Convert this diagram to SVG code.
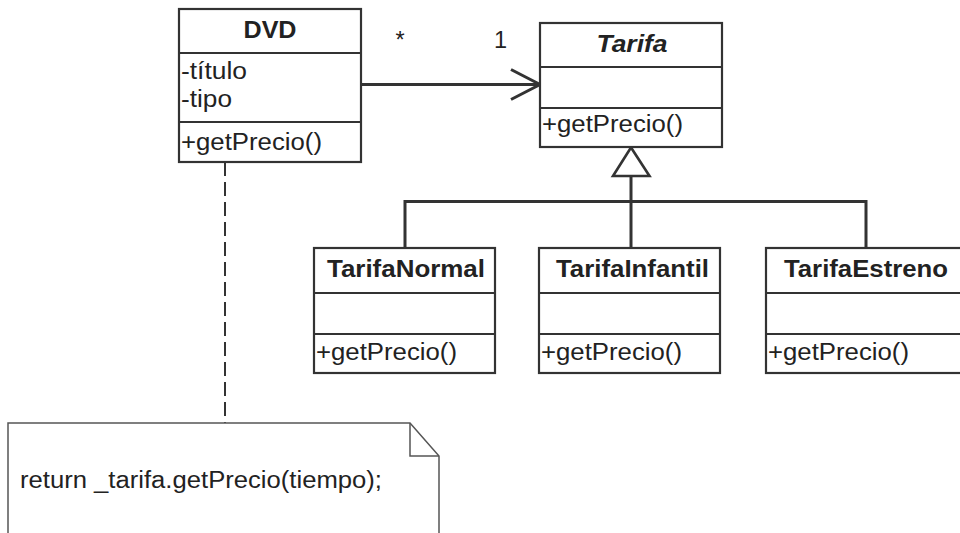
<svg xmlns="http://www.w3.org/2000/svg" width="960" height="533" viewBox="0 0 960 533">
<style>
.box{fill:#fff;stroke:#333;stroke-width:2.2}
.sep{stroke:#333;stroke-width:2.2}
.t{font-family:"Liberation Sans",Arial,sans-serif;font-size:23.5px;fill:#222}
.b{font-weight:bold}
.i{font-style:italic}
.c{text-anchor:middle}
.con{fill:none;stroke:#333;stroke-width:3}
</style>
<rect width="960" height="533" fill="#fff"/>
<g id="connectors">
<line class="con" x1="361" y1="84.5" x2="540" y2="84.5"/>
<polyline class="con" points="511,69.5 540,84.5 511,99.5"/>
<text class="t" x="395.5" y="48" font-size="21">*</text>
<text class="t" x="494" y="48">1</text>
<line class="con" x1="631" y1="176" x2="631" y2="248"/>
<polyline class="con" points="405,248 405,201.5 866,201.5 866,248"/>
<polygon points="631,147.5 613,176 649.5,176" fill="#fff" stroke="#333" stroke-width="2.6"/>
<line x1="225" y1="162" x2="225" y2="423" stroke="#333" stroke-width="2" stroke-dasharray="14,6"/>
</g>
<g id="DVD">
<rect class="box" x="179" y="9" width="182" height="153"/>
<line class="sep" x1="179" y1="53" x2="361" y2="53"/>
<line class="sep" x1="179" y1="122" x2="361" y2="122"/>
<text class="t b c" x="270" y="38" textLength="53" lengthAdjust="spacingAndGlyphs">DVD</text>
<text class="t" x="181" y="79" textLength="66" lengthAdjust="spacingAndGlyphs">-título</text>
<text class="t" x="181" y="107" textLength="51" lengthAdjust="spacingAndGlyphs">-tipo</text>
<text class="t" x="181" y="150" textLength="141" lengthAdjust="spacingAndGlyphs">+getPrecio()</text>
</g>
<g id="Tarifa">
<rect class="box" x="540" y="23" width="182" height="124"/>
<line class="sep" x1="540" y1="67" x2="722" y2="67"/>
<line class="sep" x1="540" y1="108" x2="722" y2="108"/>
<text class="t b i c" x="632" y="52" textLength="71" lengthAdjust="spacingAndGlyphs">Tarifa</text>
<text class="t" x="542" y="132" textLength="141" lengthAdjust="spacingAndGlyphs">+getPrecio()</text>
</g>
<g id="TarifaNormal">
<rect class="box" x="314" y="248" width="181" height="125"/>
<line class="sep" x1="314" y1="293" x2="495" y2="293"/>
<line class="sep" x1="314" y1="334" x2="495" y2="334"/>
<text class="t b c" x="406" y="277" textLength="158" lengthAdjust="spacingAndGlyphs">TarifaNormal</text>
<text class="t" x="316" y="360" textLength="141" lengthAdjust="spacingAndGlyphs">+getPrecio()</text>
</g>
<g id="TarifaInfantil">
<rect class="box" x="539" y="248" width="181" height="125"/>
<line class="sep" x1="539" y1="293" x2="720" y2="293"/>
<line class="sep" x1="539" y1="334" x2="720" y2="334"/>
<text class="t b c" x="632.5" y="277" textLength="153" lengthAdjust="spacingAndGlyphs">TarifaInfantil</text>
<text class="t" x="541" y="360" textLength="141" lengthAdjust="spacingAndGlyphs">+getPrecio()</text>
</g>
<g id="TarifaEstreno">
<rect class="box" x="766" y="248" width="200" height="125"/>
<line class="sep" x1="766" y1="293" x2="966" y2="293"/>
<line class="sep" x1="766" y1="334" x2="966" y2="334"/>
<text class="t b c" x="866" y="277" textLength="164" lengthAdjust="spacingAndGlyphs">TarifaEstreno</text>
<text class="t" x="768" y="360" textLength="141" lengthAdjust="spacingAndGlyphs">+getPrecio()</text>
</g>
<g id="note">
<path d="M8,540 V423 H410 L439,456 V540" fill="#fff" stroke="#555" stroke-width="1.5"/>
<path d="M410,423 V456 H439" fill="none" stroke="#555" stroke-width="1.5"/>
<text class="t" x="20" y="488" textLength="362" lengthAdjust="spacingAndGlyphs">return _tarifa.getPrecio(tiempo);</text>
</g>
</svg>
